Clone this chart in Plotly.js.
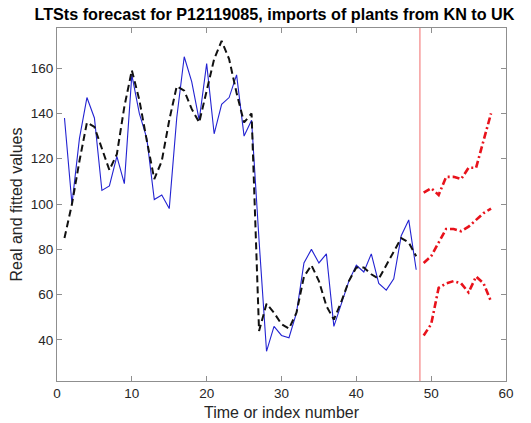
<!DOCTYPE html>
<html>
<head>
<meta charset="utf-8">
<script src="https://cdn.plot.ly/plotly-3.0.1.min.js"></script>
<style>html,body{margin:0;padding:0;background:#fff;}#chart{width:531px;height:423px;}</style>
</head>
<body>
<div id="chart"></div>
<script>
// time index of observed and fitted values
const timeObs = [1,2,3,4,5,6,7,8,9,10,11,12,13,14,15,16,17,18,19,20,21,22,23,24,25,26,27,28,29,30,31,32,33,34,35,36,37,38,39,40,41,42,43,44,45,46,47,48];
// real values (blue)
const realValues = [138,100,129,147,138,106,108,121,109,157,140,129,102,104,98,138,165,154,137,162,131,144,147,157,130,137,84,35,46,42,41,52,74,80,74,78,46,56,66,73,70,78,65,62,67,86,93,71];
// fitted values (black dashed)
const fittedValues = [85,100,119,136,134,124,115,122,143,159,146,128,111,119,137,152,150,142,136,150,164,172,164,149,136,140,44,56,52,47,45,52,68,73,66,55,49,57,66,72,72,69,67,73,79,85,83,77];
// forecast horizon
const timeFc = [49,50,51,52,53,54,55,56,57,58];
const fcUpper = [105,107,104,112,112,111,116,116,128,140];
const fcMean = [74,77,83,89,89,88,90,93,96,98];
const fcLower = [42,47,63,65,66,65,61,68,65,57];
// split between sample and forecast
const splitPoint = 48.5;
const xTicks = [0,10,20,30,40,50,60];
const yTicks = [40,60,80,100,120,140,160];

const font = "Liberation Sans, Arial, Helvetica, sans-serif";
const red = "#e8121b";
const traces = [
  {x: timeObs, y: realValues, type: "scatter", mode: "lines",
   line: {color: "#2323d2", width: 1.1}, hoverinfo: "skip"},
  {x: timeObs, y: fittedValues, type: "scatter", mode: "lines",
   line: {color: "#111111", width: 2, dash: "7px,4px"}, hoverinfo: "skip"},
  {x: timeFc, y: fcUpper, type: "scatter", mode: "lines",
   line: {color: red, width: 2.6, dash: "7px,3px,2px,3px"}, hoverinfo: "skip"},
  {x: timeFc, y: fcMean, type: "scatter", mode: "lines",
   line: {color: red, width: 2.6, dash: "7px,3px,2px,3px"}, hoverinfo: "skip"},
  {x: timeFc, y: fcLower, type: "scatter", mode: "lines",
   line: {color: red, width: 2.6, dash: "7px,3px,2px,3px"}, hoverinfo: "skip"}
];
const axisCommon = {
  showline: true, linecolor: "#8f8f8f", linewidth: 1, mirror: "allticks",
  ticks: "inside", ticklen: 5, tickwidth: 1, tickcolor: "#8f8f8f",
  showgrid: false, zeroline: false,
  tickfont: {family: font, size: 13.5, color: "#262626"}
};
const layout = {
  width: 531, height: 423,
  margin: {l: 57, r: 25, t: 27.5, b: 42},
  paper_bgcolor: "#ffffff", plot_bgcolor: "#ffffff",
  showlegend: false,
  title: {text: "<b>LTSts forecast for P12119085, imports of plants from KN to UK</b>",
          font: {family: font, size: 16.2, color: "#000000"},
          xref: "container", x: 274.5/531, xanchor: "center",
          yref: "container", y: 1 - 14.5/423, yanchor: "middle"},
  xaxis: Object.assign({}, axisCommon, {
    range: [0, 60], tickvals: xTicks, ticktext: xTicks.map(String),
    title: {text: "Time or index number", font: {family: font, size: 16, color: "#262626"}, standoff: 6}
  }),
  yaxis: Object.assign({}, axisCommon, {
    range: [21.9, 177.7], tickvals: yTicks, ticktext: yTicks.map(String),
    title: {text: "Real and fitted values", font: {family: font, size: 16, color: "#262626"}, standoff: 4}
  }),
  shapes: [{type: "line", xref: "x", yref: "paper", x0: splitPoint, x1: splitPoint, y0: 0, y1: 1,
            line: {color: "rgba(240,80,80,0.85)", width: 1}}]
};
Plotly.newPlot("chart", traces, layout, {displayModeBar: false, staticPlot: true});
</script>
</body>
</html>
